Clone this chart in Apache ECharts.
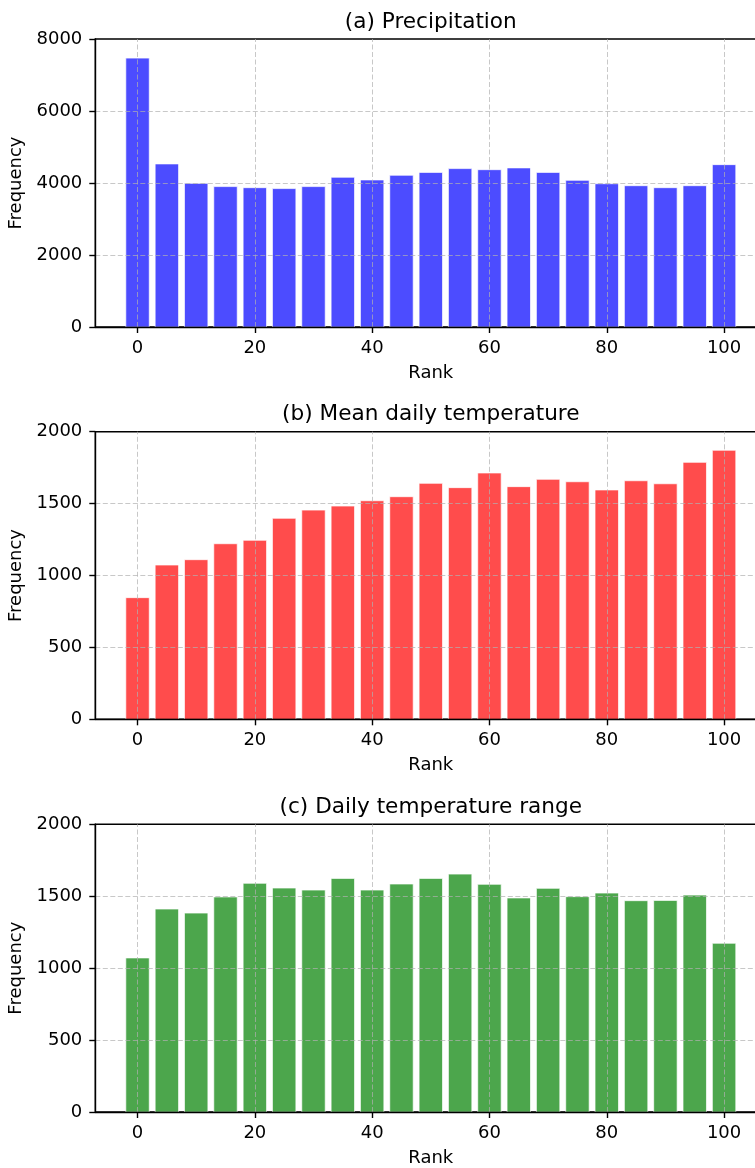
<!DOCTYPE html>
<html>
<head>
<meta charset="utf-8">
<script src="https://cdn.jsdelivr.net/npm/echarts@6/dist/echarts.min.js"></script>
<style>
  html, body { margin: 0; padding: 0; background: #fff; }
  #chart { width: 755px; height: 1168px; }
</style>
</head>
<body>
<div id="chart"></div>
<script>
// ---- data ----
const ranks = [0, 5, 10, 15, 20, 25, 30, 35, 40, 45, 50, 55, 60, 65, 70, 75, 80, 85, 90, 95, 100];
const precipitation = [7470, 4530, 3990, 3900, 3870, 3845, 3900, 4160, 4085, 4215, 4295, 4400, 4370, 4420, 4295, 4075, 3980, 3925, 3870, 3925, 4510];
const meanTemperature = [846, 1073, 1110, 1221, 1245, 1398, 1455, 1483, 1520, 1548, 1641, 1611, 1713, 1618, 1669, 1652, 1595, 1659, 1638, 1787, 1871];
const temperatureRange = [1071, 1411, 1383, 1495, 1590, 1557, 1543, 1624, 1543, 1585, 1624, 1654, 1583, 1488, 1555, 1497, 1522, 1469, 1471, 1508, 1173];
const xTickValues = [0, 20, 40, 60, 80, 100];
const titles = ['(a) Precipitation', '(b) Mean daily temperature', '(c) Daily temperature range'];
const yMax = [8000, 2000, 2000];
const yInterval = [2000, 500, 500];

// ---- layout / style ----
const FONT = 'DejaVu Sans';
const panels = [
  { values: precipitation, color: 'rgba(0,0,255,0.7)', top: 39, height: 288 },
  { values: meanTemperature, color: 'rgba(255,0,0,0.7)', top: 431.7, height: 287.6 },
  { values: temperatureRange, color: 'rgba(0,128,0,0.7)', top: 824.3, height: 287.7 }
];
const gridLeft = 95.3, gridWidth = 671;
const halfBar = 2;
const gridLineStyle = { color: 'rgba(176,176,176,0.7)', width: 1, type: [5, 2.5] };

const grids = [], xAxes = [], yAxes = [], series = [], graphics = [];
panels.forEach((p, i) => {
  grids.push({ left: gridLeft, top: p.top, width: gridWidth, height: p.height,
    containLabel: false, outerBoundsMode: 'none',
    show: true, borderColor: '#000', borderWidth: 1.4, backgroundColor: 'transparent' });
  xAxes.push({
    type: 'value', gridIndex: i, min: -7.2, max: 107.2, z: 5,
    name: 'Rank', nameLocation: 'middle', nameGap: 37,
    nameTextStyle: { fontFamily: FONT, fontSize: 18, color: '#000' },
    axisLine: { show: true, onZero: false, lineStyle: { color: '#000', width: 1.4 } },
    axisTick: { show: true, length: 6, lineStyle: { color: '#000', width: 1.4 }, customValues: xTickValues },
    axisLabel: { fontFamily: FONT, fontSize: 18, color: '#000', margin: 12, customValues: xTickValues },
    splitLine: { show: false }
  });
  yAxes.push({
    type: 'value', gridIndex: i, min: 0, max: yMax[i], interval: yInterval[i], z: 5,
    name: 'Frequency', nameLocation: 'middle', nameGap: 64,
    nameTextStyle: { fontFamily: FONT, fontSize: 18, color: '#000' },
    axisLine: { show: true, onZero: false, lineStyle: { color: '#000', width: 1.4 } },
    axisTick: { show: true, length: 6, lineStyle: { color: '#000', width: 1.4 } },
    axisLabel: { fontFamily: FONT, fontSize: 18, color: '#000', margin: 13,
      formatter: v => String(v) },
    splitLine: { show: true, showMinLine: false, showMaxLine: false, lineStyle: gridLineStyle }
  });
  // vertical grid lines at the x tick positions
  series.push({
    type: 'line', xAxisIndex: i, yAxisIndex: i, data: [], z: 4, silent: true,
    markLine: {
      silent: true, symbol: 'none', animation: false,
      label: { show: false },
      lineStyle: gridLineStyle,
      data: xTickValues.map(v => ({ xAxis: v }))
    }
  });
  const color = p.color;
  series.push({
    type: 'custom', xAxisIndex: i, yAxisIndex: i, z: 2,
    data: ranks.map((r, k) => [r, p.values[k]]),
    encode: { x: 0, y: 1 },
    renderItem: function (params, api) {
      const x = api.value(0), v = api.value(1);
      const a = api.coord([x - halfBar, v]);
      const b = api.coord([x + halfBar, 0]);
      return {
        type: 'rect',
        shape: { x: a[0], y: a[1], width: b[0] - a[0], height: b[1] - a[1] },
        style: { fill: color, stroke: 'rgba(255,255,255,0.7)', lineWidth: 1 }
      };
    }
  });
  graphics.push({
    type: 'text', x: gridLeft + gridWidth / 2, y: p.top - 17,
    style: { text: titles[i], fontFamily: FONT, fontSize: 21.6, fill: '#000',
      textAlign: 'center', textVerticalAlign: 'middle' }
  });
});

const chart = echarts.init(document.getElementById('chart'), null, { renderer: 'canvas' });
chart.setOption({
  animation: false,
  backgroundColor: '#fff',
  grid: grids, xAxis: xAxes, yAxis: yAxes, series: series, graphic: graphics
});
</script>
</body>
</html>
